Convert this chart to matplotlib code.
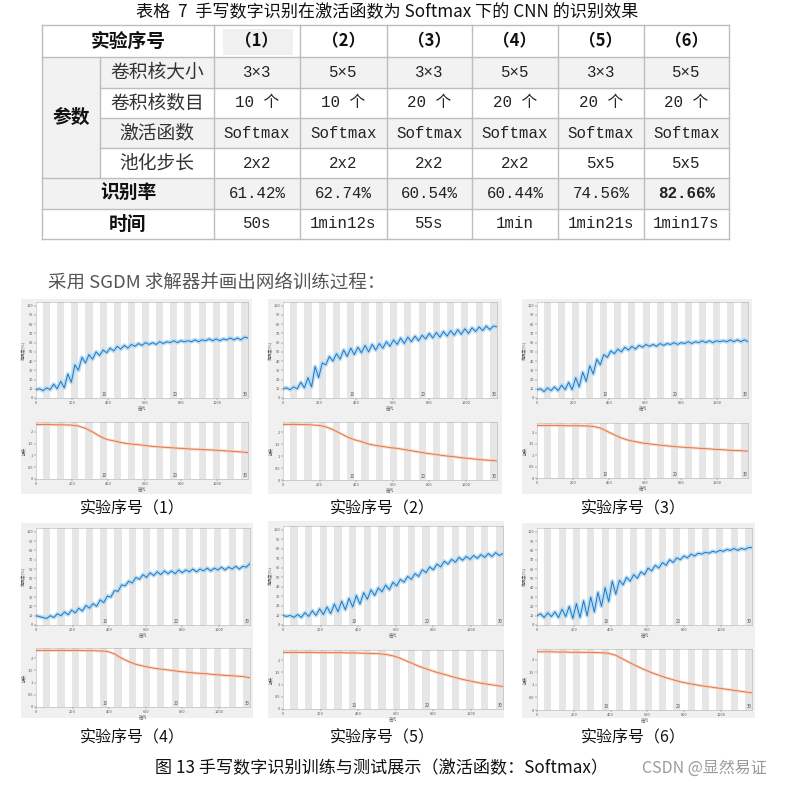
import numpy as np
import matplotlib
matplotlib.use('Agg')
import matplotlib.pyplot as plt
from matplotlib.patches import Rectangle

plt.rcParams['font.family'] = ['Noto Sans CJK SC', 'DejaVu Sans']

W, H = 788, 787

# ---------------- table data ----------------
table_title = "表格  7  手写数字识别在激活函数为 Softmax 下的 CNN 的识别效果"
exp_ids = ["（1）", "（2）", "（3）", "（4）", "（5）", "（6）"]
kernel_size = ["3×3", "5×5", "3×3", "5×5", "3×3", "5×5"]
kernel_count = ["10 个", "10 个", "20 个", "20 个", "20 个", "20 个"]
activation = ["Softmax"] * 6
pool_stride = ["2x2", "2x2", "2x2", "2x2", "5x5", "5x5"]
recog_rate = ["61.42%", "62.74%", "60.54%", "60.44%", "74.56%", "82.66%"]
train_time = ["50s", "1min12s", "55s", "1min", "1min21s", "1min17s"]
param_labels = ["卷积核大小", "卷积核数目", "激活函数", "池化步长"]

# ---------------- training curves ----------------
n_epochs = 30
iters_per_epoch = 39
acc_iter = np.linspace(0, 1170, 61)
loss_iter = np.linspace(0, 1170, 31)

acc1 = [9, 10, 8, 11, 9, 15, 10, 18, 11, 26, 17, 36, 30, 44, 38, 47, 42, 50, 46, 52, 49,
        54, 51, 56, 53, 57, 54, 58, 56, 59, 57, 60, 58, 60, 58, 61, 59, 61, 60, 62, 60,
        62, 61, 62, 61, 63, 61, 63, 62, 64, 62, 64, 62, 64, 63, 65, 63, 65, 63, 66, 65]
acc2 = [10, 11, 9, 12, 10, 17, 11, 22, 12, 34, 22, 38, 36, 45, 40, 48, 42, 52, 45, 54, 47,
        55, 49, 57, 50, 58, 52, 59, 54, 61, 56, 63, 58, 65, 59, 66, 61, 67, 62, 68, 64,
        70, 65, 71, 66, 72, 67, 73, 68, 74, 69, 75, 70, 76, 72, 77, 73, 78, 74, 78, 77]
acc3 = [9, 10, 7, 11, 8, 12, 8, 14, 9, 17, 9, 22, 12, 28, 18, 35, 26, 42, 36, 47, 44,
        51, 48, 53, 50, 55, 52, 56, 53, 57, 55, 58, 56, 58, 56, 59, 57, 59, 58, 60, 58,
        60, 59, 61, 59, 61, 60, 62, 60, 62, 60, 62, 61, 62, 61, 63, 61, 63, 61, 63, 61]
acc4 = [10, 9, 8, 7, 10, 8, 12, 10, 14, 11, 16, 13, 18, 15, 21, 18, 23, 20, 27, 24, 31,
        30, 37, 36, 43, 42, 47, 45, 51, 49, 54, 51, 56, 53, 57, 54, 58, 55, 58, 55, 59,
        56, 59, 57, 60, 57, 60, 58, 61, 58, 61, 59, 62, 59, 62, 60, 63, 60, 63, 62, 66]
acc5 = [10, 9, 10, 8, 11, 8, 13, 9, 15, 10, 17, 11, 19, 12, 22, 14, 25, 16, 28, 19, 31,
        22, 34, 27, 37, 31, 39, 35, 42, 37, 45, 41, 48, 45, 51, 48, 54, 51, 58, 55, 61,
        58, 64, 61, 67, 64, 69, 66, 71, 68, 72, 69, 73, 70, 74, 71, 75, 72, 76, 73, 75]
acc6 = [10, 12, 8, 13, 9, 14, 8, 17, 9, 20, 7, 23, 8, 26, 10, 30, 14, 35, 20, 40, 25,
        47, 33, 48, 43, 51, 47, 54, 50, 57, 54, 61, 58, 64, 61, 67, 64, 70, 67, 72, 70,
        74, 72, 76, 74, 77, 76, 78, 77, 79, 78, 80, 79, 81, 80, 82, 80, 82, 81, 83, 83]

loss1 = [2.31, 2.31, 2.31, 2.30, 2.30, 2.29, 2.25, 2.15, 2.00, 1.82, 1.68, 1.62, 1.55, 1.50,
         1.47, 1.44, 1.40, 1.37, 1.35, 1.33, 1.31, 1.29, 1.27, 1.26, 1.24, 1.23, 1.21, 1.19,
         1.17, 1.15, 1.12]
loss2 = [2.32, 2.32, 2.32, 2.31, 2.30, 2.28, 2.22, 2.10, 1.95, 1.80, 1.68, 1.60, 1.50, 1.44,
         1.40, 1.35, 1.32, 1.27, 1.22, 1.17, 1.12, 1.08, 1.04, 1.00, 0.97, 0.93, 0.90, 0.87,
         0.84, 0.82, 0.80]
loss3 = [2.31, 2.31, 2.31, 2.31, 2.30, 2.30, 2.30, 2.29, 2.27, 2.20, 2.05, 1.90, 1.76, 1.66,
         1.60, 1.54, 1.50, 1.46, 1.43, 1.40, 1.37, 1.35, 1.33, 1.31, 1.29, 1.27, 1.25, 1.23,
         1.21, 1.20, 1.18]
loss4 = [2.32, 2.32, 2.32, 2.32, 2.32, 2.32, 2.32, 2.31, 2.31, 2.30, 2.28, 2.18, 2.00, 1.86,
         1.75, 1.68, 1.62, 1.57, 1.54, 1.50, 1.46, 1.43, 1.40, 1.38, 1.36, 1.33, 1.31, 1.29,
         1.27, 1.25, 1.20]
loss5 = [2.32, 2.32, 2.32, 2.32, 2.32, 2.31, 2.31, 2.31, 2.31, 2.30, 2.30, 2.29, 2.28, 2.27,
         2.24, 2.18, 2.08, 1.95, 1.82, 1.70, 1.60, 1.50, 1.42, 1.33, 1.25, 1.18, 1.12, 1.06,
         1.01, 0.97, 0.92]
loss6 = [2.31, 2.31, 2.31, 2.30, 2.30, 2.29, 2.29, 2.29, 2.28, 2.27, 2.25, 2.17, 2.02, 1.87,
         1.73, 1.60, 1.48, 1.38, 1.28, 1.20, 1.12, 1.06, 1.01, 0.96, 0.92, 0.88, 0.84, 0.80,
         0.76, 0.72, 0.68]

acc_all = [acc1, acc2, acc3, acc4, acc5, acc6]
loss_all = [loss1, loss2, loss3, loss4, loss5, loss6]
captions = ["实验序号（1）", "实验序号（2）", "实验序号（3）",
            "实验序号（4）", "实验序号（5）", "实验序号（6）"]
intro_text = "采用 SGDM 求解器并画出网络训练过程："
fig_caption = "图 13 手写数字识别训练与测试展示（激活函数：Softmax）"
watermark = "CSDN @显然易证"

# ---------------- layout (pixels) ----------------
panels = [
    dict(bg=(21, 299, 252, 494), ax=(36, 248), top=(302, 398), low=(422, 479)),
    dict(bg=(268, 299, 502, 494), ax=(283, 497), top=(302, 398), low=(422, 480)),
    dict(bg=(522, 299, 752, 494), ax=(537, 748), top=(302, 398), low=(423, 478)),
    dict(bg=(21, 523, 253, 718), ax=(36, 250), top=(528, 625), low=(648, 707)),
    dict(bg=(268, 521, 504, 718), ax=(283, 503), top=(526, 625), low=(650, 709)),
    dict(bg=(522, 523, 755, 718), ax=(537, 752), top=(528, 625), low=(649, 710)),
]
caption_pos = [(132, 509), (382, 509), (633, 509), (132, 738), (382, 738), (633, 738)]

fig = plt.figure(figsize=(W / 100, H / 100), dpi=100)
ax0 = fig.add_axes([0, 0, 1, 1])
ax0.set_xlim(0, W)
ax0.set_ylim(H, 0)
ax0.axis('off')


def frac(x0, y0, x1, y1):
    return [x0 / W, 1 - y1 / H, (x1 - x0) / W, (y1 - y0) / H]


# ---------------- table ----------------
ax0.text(387, 12, table_title, ha='center', va='center', fontsize=12.3, color='#111')
xs = [42, 100, 214, 300, 387, 472, 558, 644, 729]
ys = [25, 57, 88, 118, 148, 178, 209, 239]
gray = '#f2f2f2'
line_c = '#bdbdbd'
for r in (1, 3):
    ax0.add_patch(Rectangle((xs[1], ys[r]), xs[-1] - xs[1], ys[r + 1] - ys[r], color=gray, lw=0))
ax0.add_patch(Rectangle((xs[0], ys[5]), xs[-1] - xs[0], ys[6] - ys[5], color=gray, lw=0))
ax0.add_patch(Rectangle((xs[0], ys[1]), xs[1] - xs[0], ys[5] - ys[1], color=gray, lw=0))
ax0.add_patch(Rectangle((223, 29), 70, 26, color='#f0f0f0', lw=0))
ax0.plot([xs[0], xs[-1]], [ys[0], ys[0]], color=line_c, lw=1)
ax0.plot([xs[0], xs[-1]], [ys[-1], ys[-1]], color=line_c, lw=1)
for r in range(1, 7):
    x_start = xs[1] if r in (2, 3, 4) else xs[0]
    ax0.plot([x_start, xs[-1]], [ys[r], ys[r]], color=line_c, lw=1)
ax0.plot([xs[0], xs[0]], [ys[0], ys[-1]], color=line_c, lw=1)
ax0.plot([xs[-1], xs[-1]], [ys[0], ys[-1]], color=line_c, lw=1)
ax0.plot([xs[1], xs[1]], [ys[1], ys[5]], color=line_c, lw=1)
for c in range(2, 8):
    ax0.plot([xs[c], xs[c]], [ys[0], ys[-1]], color=line_c, lw=1)

cx = [(xs[c] + xs[c + 1]) / 2 for c in range(2, 8)]
cy = [(ys[r] + ys[r + 1]) / 2 for r in range(7)]
mono = ['Liberation Mono', 'Noto Sans CJK SC']
for txt, xc, yc in [("实验序号", (xs[0] + xs[2]) / 2, cy[0]),
                    ("参数", (xs[0] + xs[1]) / 2, (ys[1] + ys[5]) / 2),
                    ("识别率", (xs[0] + xs[2]) / 2, cy[5]),
                    ("时间", (xs[0] + xs[2]) / 2, cy[6])]:
    ax0.text(xc, yc, txt, ha='center', va='center', fontsize=13.5, fontweight='bold', color='#111')
for i, lab in enumerate(param_labels):
    ax0.text((xs[1] + xs[2]) / 2, cy[i + 1], lab, ha='center', va='center', fontsize=13.5,
             color='#333')
rows = [exp_ids, kernel_size, kernel_count, activation, pool_stride, recog_rate, train_time]
for r, vals in enumerate(rows):
    for c, v in enumerate(vals):
        if r == 0:
            ax0.text(cx[c], cy[r], v, ha='center', va='center', fontsize=12,
                     fontweight='bold', color='#111')
        else:
            bold = (r == 5 and c == 5)
            ax0.text(cx[c], cy[r], v, ha='center', va='center', fontsize=11.3,
                     family=mono, fontweight='bold' if bold else 'normal', color='#222')

ax0.text(48, 283, intro_text, ha='left', va='center', fontsize=13.3, color='#555')

# ---------------- panels ----------------
acc_line = '#1f77c4'
acc_band = '#b5daf2'
loss_line = '#e0703c'
loss_band = '#f8c9b2'
band_c = '#e6e6e6'


def style_axis(ax, ylim, yticks, ylabels, ylab, epoch_y):
    for e in range(n_epochs):
        if e % 2 == 1:
            ax.axvspan(e * iters_per_epoch, (e + 1) * iters_per_epoch, color=band_c, lw=0, zorder=0)
    ax.set_xlim(0, n_epochs * iters_per_epoch)
    ax.set_ylim(*ylim)
    ax.set_yticks(yticks)
    ax.set_yticklabels(ylabels)
    ax.set_xticks([0, 200, 400, 600, 800, 1000])
    ax.tick_params(labelsize=2.8, length=1.2, width=0.3, pad=1, colors='#555')
    for s in ax.spines.values():
        s.set_color('#b0b0b0')
        s.set_linewidth(0.4)
    ax.set_xlabel("迭代", fontsize=3, labelpad=0.5, color='#555')
    ax.set_ylabel(ylab, fontsize=3, labelpad=0.5, color='#555')
    for k in (10, 20, 30):
        ax.text(k * iters_per_epoch - 12, epoch_y, str(k), fontsize=3.2, color='#555',
                ha='center', va='bottom')


for p, acc, loss in zip(panels, acc_all, loss_all):
    bx0, by0, bx1, by1 = p['bg']
    ax0.add_patch(Rectangle((bx0, by0), bx1 - bx0, by1 - by0, color='#f0f0f0', lw=0, zorder=0))
    axa = fig.add_axes(frac(p['ax'][0], p['top'][0], p['ax'][1], p['top'][1]))
    style_axis(axa, (0, 104), list(range(0, 101, 10)), [str(v) for v in range(0, 101, 10)],
               "准确度(%)", 1.5)
    axa.plot(acc_iter, acc, color=acc_band, lw=3.0, alpha=0.9, zorder=2, solid_joinstyle='round')
    axa.plot(acc_iter, acc, color=acc_line, lw=0.7, zorder=3)
    axl = fig.add_axes(frac(p['ax'][0], p['low'][0], p['ax'][1], p['low'][1]))
    style_axis(axl, (0, 2.42), [0, 0.5, 1, 1.5, 2], ["0", "0.5", "1", "1.5", "2"], "损失", 0.04)
    axl.plot(loss_iter, loss, color=loss_band, lw=2.0, alpha=0.8, zorder=2)
    axl.plot(loss_iter, loss, color=loss_line, lw=0.6, zorder=3)

for (x, y), cap in zip(caption_pos, captions):
    ax0.text(x, y, cap, ha='center', va='center', fontsize=11.5, color='#111')

ax0.text(382, 768, fig_caption, ha='center', va='center', fontsize=12.3, fontweight='medium',
         color='#111')
ax0.text(704, 768, watermark, ha='center', va='center', fontsize=11.5, color='#9a9a9a')

fig.savefig('out.png', dpi=100)
